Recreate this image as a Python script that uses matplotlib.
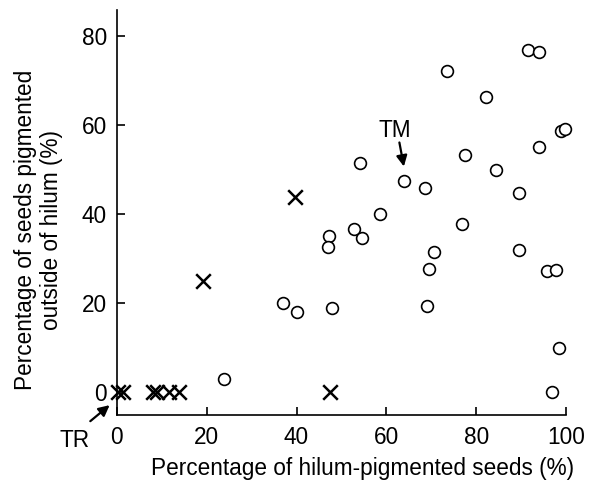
import matplotlib
matplotlib.use("Agg")
import matplotlib.pyplot as plt

plt.rcParams['font.family'] = ['Liberation Sans', 'DejaVu Sans']

# circles (open)
circ_x = [91.5, 94.0, 73.6, 82.1, 98.9, 99.8, 93.9, 77.6, 84.5, 54.2, 63.9, 68.5, 89.6,
          58.5, 52.7, 54.6, 47.2, 46.9, 76.8, 70.5, 69.4, 89.6, 95.7, 97.7,
          37.1, 40.2, 48.0, 69.0, 98.5, 23.9, 96.9]
circ_y = [76.8, 76.4, 72.1, 66.2, 58.5, 59.0, 55.0, 53.3, 49.8, 51.4, 47.4, 45.8, 44.7,
          40.0, 36.5, 34.5, 35.0, 32.6, 37.7, 31.4, 27.5, 31.8, 27.1, 27.4,
          20.0, 18.0, 18.9, 19.3, 9.8, 2.8, 0.0]
# crosses
x_x = [39.7, 19.2, 47.4, 0.2, 1.3, 8.0, 9.0, 11.6, 13.8]
x_y = [43.7, 24.9, 0.0, 0.0, 0.0, 0.0, 0.0, 0.0, 0.0]

xticks = [0, 20, 40, 60, 80, 100]
yticks = [0, 20, 40, 60, 80]

FS = 16.3

fig = plt.figure(figsize=(5.99, 4.91), dpi=100)
ax = fig.add_axes([0.195, 0.154, 0.75, 0.826])

ax.scatter(circ_x, circ_y, s=72, facecolors='white', edgecolors='black', linewidths=1.2,
           clip_on=False, zorder=3)
ax.scatter(x_x, x_y, s=110, marker='x', color='black', linewidths=1.8,
           clip_on=False, zorder=3)

ax.set_xlim(0, 100)
ax.set_ylim(-5.3, 85.8)
ax.set_xticks(xticks)
ax.set_yticks(yticks)
ax.spines['top'].set_visible(False)
ax.spines['right'].set_visible(False)
for s in ['left', 'bottom']:
    ax.spines[s].set_linewidth(1.2)
ax.tick_params(direction='in', length=6, width=1.2, labelsize=FS)
ax.tick_params(axis='y', pad=7)
ax.tick_params(axis='x', pad=8)

ax.set_xlabel('Percentage of hilum-pigmented seeds (%)', fontsize=FS)
ax.set_ylabel('Percentage of seeds pigmented\noutside of hilum (%)', fontsize=FS,
              linespacing=1.15)
ax.xaxis.set_label_coords(0.548, -0.13)
ax.yaxis.set_label_coords(-0.174, 0.457)
ax.xaxis.label.set_va('center')
ax.yaxis.label.set_va('center')

arrow = dict(arrowstyle='-|>', color='black', lw=1.6, shrinkA=0, shrinkB=0,
             mutation_scale=16)
ax.text(61.8, 58.8, 'TM', fontsize=FS, ha='center', va='center')
ax.annotate('', xy=(63.9, 50.6), xytext=(62.9, 56.0), arrowprops=arrow,
            annotation_clip=False)
ax.text(-9.4, -10.9, 'TR', fontsize=FS, ha='center', va='center', clip_on=False)
ax.annotate('', xy=(-1.6, -3.0), xytext=(-5.9, -6.6), arrowprops=arrow,
            annotation_clip=False)

fig.savefig('out.png', dpi=100)
